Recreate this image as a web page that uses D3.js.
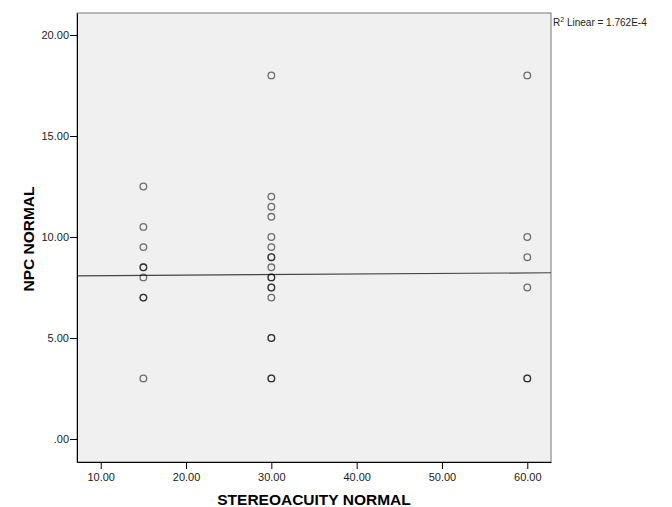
<!DOCTYPE html>
<meta charset="utf-8">
<style>
body { margin: 0; background: #fff; }
text { font-family: "Liberation Sans", Arial, sans-serif; }
.axis text { font-size: 11px; fill: #222; }
.axis path, .axis line { stroke: #000; }
</style>
<svg id="chart" width="672" height="507"></svg>
<script src="https://d3js.org/d3.v7.min.js"></script>
<script>
// stereoacuity (x) and NPC (y) pairs, repeats are drawn on top of each other
var stereo = [15, 15, 15, 15, 15, 15, 15, 15, 15,
              30, 30, 30, 30, 30, 30, 30, 30, 30, 30, 30, 30, 30, 30, 30, 30, 30, 30,
              60, 60, 60, 60, 60, 60];
var npc = [12.5, 10.5, 9.5, 8.5, 8.5, 8, 7, 7, 3,
           18, 12, 11.5, 11, 10, 9.5, 9, 9, 8.5, 8, 8, 7.5, 7.5, 7, 5, 5, 3, 3,
           18, 10, 9, 7.5, 3, 3];
var xTicks = [10, 20, 30, 40, 50, 60];
var yTicks = [0, 5, 10, 15, 20];
var fit = {intercept: 8.06, slope: 0.0027};
var r2Label = "1.762E-4";

var svg = d3.select("#chart");
var pLeft = 77, pTop = 13, pRight = 551, pBottom = 462;

var x = d3.scaleLinear().domain([7.22, 62.78]).range([pLeft, pRight]);
var y = d3.scaleLinear().domain([-1.14, 21.09]).range([pBottom, pTop]);

var fmt = function(d) { return d === 0 ? ".00" : d3.format(".2f")(d); };

svg.append("rect")
    .attr("x", pLeft).attr("y", pTop)
    .attr("width", pRight - pLeft).attr("height", pBottom - pTop)
    .attr("fill", "#f0f0f0")
    .attr("stroke", "#777");

// fit line
svg.append("line")
    .attr("x1", x(x.domain()[0])).attr("y1", y(fit.intercept + fit.slope * x.domain()[0]))
    .attr("x2", x(x.domain()[1])).attr("y2", y(fit.intercept + fit.slope * x.domain()[1]))
    .attr("stroke", "#444").attr("stroke-width", 1.2);

svg.append("g").selectAll("circle")
    .data(d3.range(stereo.length))
  .enter().append("circle")
    .attr("cx", function(i) { return x(stereo[i]); })
    .attr("cy", function(i) { return y(npc[i]); })
    .attr("r", 3.3)
    .attr("fill", "none")
    .attr("stroke", "#000")
    .attr("stroke-opacity", 0.55)
    .attr("stroke-width", 1.3);

svg.append("g")
    .attr("class", "axis")
    .attr("transform", "translate(0," + pBottom + ")")
    .call(d3.axisBottom(x).tickValues(xTicks).tickFormat(fmt).tickSize(7).tickSizeOuter(0))
    .call(function(g) { g.selectAll("text").attr("dy", "0.85em"); });

svg.append("g")
    .attr("class", "axis")
    .attr("transform", "translate(" + pLeft + ",0)")
    .call(d3.axisLeft(y).tickValues(yTicks).tickFormat(fmt).tickSize(7).tickSizeOuter(0))
    .call(function(g) { g.selectAll("text").attr("x", -8); });

svg.append("text")
    .attr("x", 314).attr("y", 505)
    .attr("text-anchor", "middle")
    .attr("font-size", 15.5).attr("font-weight", "bold")
    .text("STEREOACUITY NORMAL");

svg.append("text")
    .attr("transform", "translate(34,239) rotate(-90)")
    .attr("text-anchor", "middle")
    .attr("font-size", 15.5).attr("font-weight", "bold")
    .text("NPC NORMAL");

var r2 = svg.append("text")
    .attr("x", pRight + 2).attr("y", 26)
    .attr("font-size", 10).attr("fill", "#222");
r2.append("tspan").text("R");
r2.append("tspan").attr("font-size", 7).attr("dy", -4).text("2");
r2.append("tspan").attr("dy", 4).text(" Linear = " + r2Label);
</script>
